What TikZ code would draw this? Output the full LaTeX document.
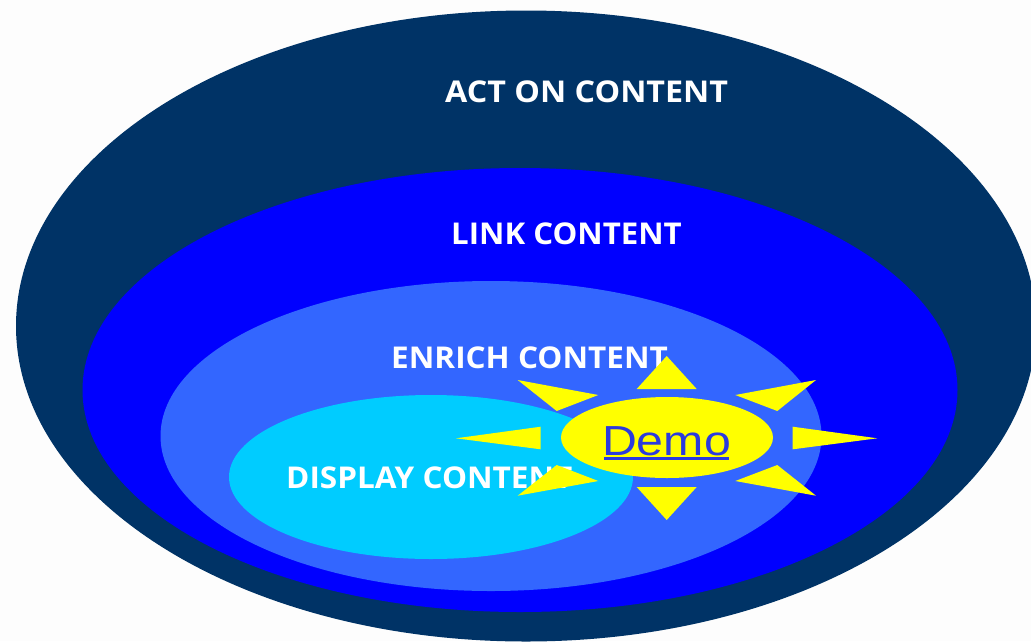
\documentclass[tikz,border=0pt]{standalone}
\usepackage{fontspec}
\setmainfont{Open Sans}
\newfontfamily\demofont{Liberation Sans}
\usetikzlibrary{shapes.geometric}
\definecolor{actcol}{HTML}{003366}
\definecolor{linkcol}{HTML}{0000FF}
\definecolor{enrichcol}{HTML}{3366FF}
\definecolor{dispcol}{HTML}{00CCFF}
\definecolor{suncol}{HTML}{FFFF00}
\definecolor{demoblue}{HTML}{2B3BDD}
\definecolor{bgcol}{HTML}{FDFDFD}
\tikzset{
  layer/.style={ellipse, inner sep=0pt, draw=none},
  lbl/.style={text=white, font=\fontsize{30}{30}\selectfont\bfseries, inner sep=0pt, anchor=base west},
  ray/.style={fill=suncol, draw=none},
}
\begin{document}
\begin{tikzpicture}[x=1pt,y=-1pt]
\fill[bgcol] (0,0) rectangle (1031,641);
\useasboundingbox (0,0) rectangle (1031,641);
\node[layer, fill=actcol, minimum width=1020pt, minimum height=631pt] (act) at (526,326) {};
\node[layer, fill=linkcol, minimum width=875pt, minimum height=444pt] (link) at (520,390) {};
\node[layer, fill=enrichcol, minimum width=661pt, minimum height=310pt] (enrich) at (491,436) {};
\node[layer, fill=dispcol, minimum width=404pt, minimum height=164pt] (disp) at (431,477) {};
\node[lbl, xscale=1.075] (tact) at (445,102) {ACT ON CONTENT};
\node[lbl, xscale=1.04] (tlink) at (451,244) {LINK CONTENT};
\node[lbl, xscale=1.05] (tenrich) at (391,368) {ENRICH CONTENT};
\node[lbl, xscale=1.05] (tdisp) at (286,488) {DISPLAY CONTENT};
% sun rays
\fill[ray] (666.7,356) -- (636.7,389) -- (696.7,389) -- cycle;
\fill[ray] (666.7,520) -- (636.7,487) -- (696.7,487) -- cycle;
\fill[ray] (456,438.3) -- (540.7,426.7) -- (540.7,449.3) -- cycle;
\fill[ray] (877.3,438.3) -- (792.7,426.7) -- (792.7,449.3) -- cycle;
\fill[ray] (517.7,380) -- (598.3,395) -- (556.7,411) -- cycle;
\fill[ray] (816,380) -- (735.3,395) -- (777.3,411) -- cycle;
\fill[ray] (517.7,495.7) -- (598.3,481) -- (556.7,465) -- cycle;
\fill[ray] (816,495.7) -- (735.3,481) -- (777.3,465) -- cycle;
\node[layer, fill=suncol, minimum width=212pt, minimum height=81pt] (demo) at (667,437.5) {};
\node[inner sep=0pt, anchor=base, text=demoblue, font=\demofont\fontsize{42}{42}\selectfont, xscale=1.15] (tdemo) at (666.5,455) {Demo};
\draw[demoblue, line width=2.8pt] (604,458.5) -- (729.3,458.5);
\end{tikzpicture}
\end{document}
